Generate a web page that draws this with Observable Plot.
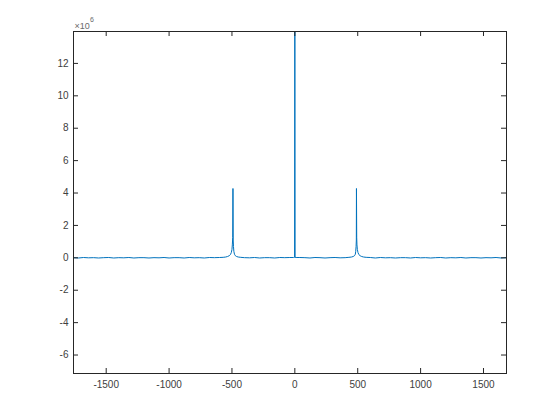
<!DOCTYPE html>
<html>
<head>
<meta charset="utf-8">
<script src="https://cdn.jsdelivr.net/npm/d3@7"></script>
<script src="https://cdn.jsdelivr.net/npm/@observablehq/plot@0.6"></script>
<style>
  html, body { margin: 0; padding: 0; background: white; }
</style>
</head>
<body>
<div id="chart"></div>
<script>
// Frequency (Hz) and magnitude (×10^6)
const freq = [
  -1760,-1720,-1680,-1640,-1600,-1560,-1520,-1480,-1440,-1400,-1360,-1320,-1280,-1240,-1200,
  -1160,-1120,-1080,-1040,-1000,-960,-920,-880,-840,-800,-760,-720,-680,-640,-600,
  -570,-550,-535,-522,-512,-505,-500,-497,-494,-492,-490,-488,-485,-480,-473,-463,-450,-430,
  -400,-360,-320,-280,-240,-200,-160,-120,-80,-40,
  -10,-2,0,2,10,
  40,80,120,160,200,240,280,320,360,400,
  430,450,464,474,481,484,487,489,490,492,494,497,502,509,519,532,547,567,
  600,640,680,720,760,800,840,880,920,960,1000,1040,1080,1120,1160,1200,1240,1280,1320,1360,
  1400,1440,1480,1520,1560,1600,1640,1680,1683
];
const mag = [
  0.01,-0.01,0.02,0.00,0.01,-0.01,0.01,0.02,-0.01,0.01,0.00,0.02,-0.01,0.01,0.01,
  -0.01,0.01,0.00,0.02,-0.01,0.01,0.01,-0.01,0.02,0.00,0.01,-0.01,0.02,0.01,0.02,
  0.03,0.05,0.08,0.13,0.2,0.33,0.52,0.8,1.25,4.28,1.1,0.7,0.4,0.22,0.13,0.08,0.05,0.03,
  0.01,0.00,0.02,-0.01,0.01,0.01,-0.01,0.02,0.01,0.02,
  0.02,0.03,13.97,0.03,0.02,
  0.02,0.01,-0.01,0.02,0.01,-0.01,0.01,0.02,0.00,0.01,
  0.03,0.05,0.08,0.13,0.22,0.4,0.7,1.1,4.28,1.25,0.8,0.52,0.33,0.2,0.13,0.08,0.05,0.03,
  0.02,-0.01,0.02,0.00,0.01,-0.01,0.01,0.01,-0.01,0.02,0.00,0.01,-0.01,0.01,0.02,-0.01,0.01,0.00,0.02,-0.01,
  0.01,0.01,-0.01,0.01,0.00,0.02,-0.01,0.01,0.01
];
const xTicks = [-1500, -1000, -500, 0, 500, 1000, 1500];
const yTicks = [-6, -4, -2, 0, 2, 4, 6, 8, 10, 12];
const xDomain = [-1760, 1683];
const yDomain = [-7.14, 13.97];
const exponentBase = ["×10"];
const exponentPower = ["6"];

const data = freq.map((f, i) => ({ f, m: mag[i] }));

const W = 560, H = 420, mL = 73, mR = 54, mT = 31, mB = 47;
const frameW = W - mL - mR, frameH = H - mT - mB, tickLen = 5;
const axisColor = "#262626";
const labelColor = "#404040";

const chart = Plot.plot({
  width: W, height: H,
  marginLeft: mL, marginRight: mR, marginTop: mT, marginBottom: mB,
  style: { fontFamily: "'Liberation Sans', Arial, Helvetica, sans-serif", fontSize: "10px", color: labelColor, background: "white" },
  x: { domain: xDomain },
  y: { domain: yDomain },
  marks: [
    Plot.line(data, { x: "f", y: "m", stroke: "#0072BD", strokeWidth: 1, clip: true }),
    Plot.tickX(xTicks, { x: d => d, insetTop: frameH - tickLen, stroke: axisColor }),
    Plot.tickX(xTicks, { x: d => d, insetBottom: frameH - tickLen, stroke: axisColor }),
    Plot.tickY(yTicks, { y: d => d, insetRight: frameW - tickLen, stroke: axisColor }),
    Plot.tickY(yTicks, { y: d => d, insetLeft: frameW - tickLen, stroke: axisColor }),
    Plot.axisX(xTicks, { tickSize: 0, tickPadding: 7, tickFormat: d => String(d), label: null }),
    Plot.axisY(yTicks, { tickSize: 0, tickPadding: 5, tickFormat: d => String(d), label: null }),
    Plot.frame({ stroke: axisColor, strokeWidth: 1 }),
    Plot.text(exponentBase, { frameAnchor: "top-left", text: d => d, textAnchor: "start", lineAnchor: "bottom", dy: -3, dx: 1, fill: "#6a6a6a", fontSize: 9 }),
    Plot.text(exponentPower, { frameAnchor: "top-left", text: d => d, textAnchor: "start", lineAnchor: "bottom", dy: -10, dx: 16.5, fill: "#6a6a6a", fontSize: 7 })
  ]
});
document.getElementById("chart").appendChild(chart);
</script>
</body>
</html>
